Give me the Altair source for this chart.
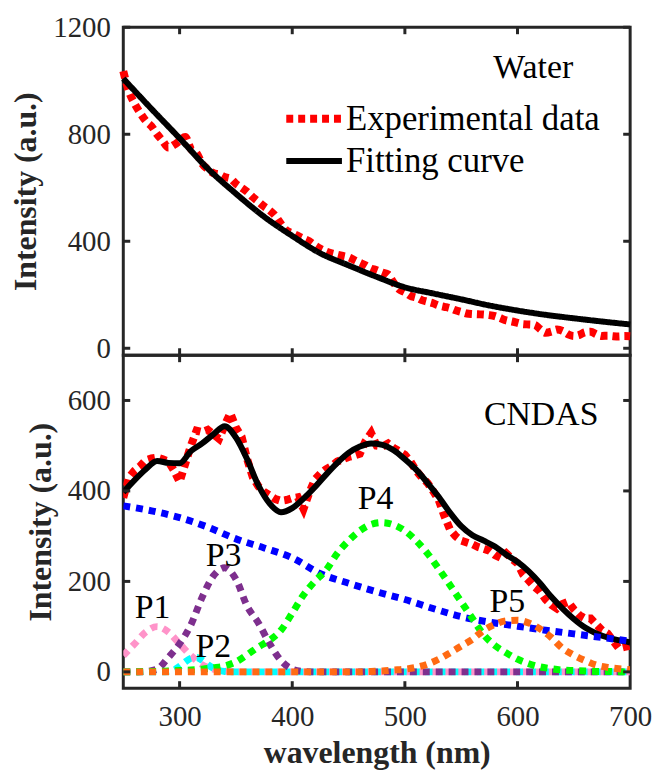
import altair as alt
import pandas as pd

FONT = "Liberation Serif"
INK = "#262626"
W, HT, HB = 510, 330, 335

# ---------------- data ----------------
# Top panel (Water)
water_fit_wl = list(range(250, 701, 25))
water_fit = [1008, 895, 785, 672, 578, 492, 420, 355, 310, 267, 228, 205, 183,
             160, 141, 125, 112, 100, 89]

water_exp_wl = list(range(250, 701, 5))
water_exp = [1036, 960, 915, 880, 850, 830, 800, 775, 750, 760,
             775, 790, 745, 730, 690, 670, 655, 650, 640, 635,
             615, 600, 585, 565, 548, 530, 515, 495, 465, 440,
             430, 420, 410, 400, 385, 372, 362, 355, 350, 345,
             340, 330, 320, 310, 298, 292, 283, 276, 245, 220,
             210, 196, 190, 180, 174, 168, 160, 155, 150, 142,
             136, 130, 128, 127, 126, 124, 120, 112, 104, 100,
             95, 90, 89, 88, 72, 58, 62, 70, 65, 52,
             46, 50, 60, 62, 52, 46, 47, 45, 44, 46,
             45]

# Bottom panel (CNDAS)
cndas_exp_wl = list(range(250, 701, 5))
cndas_exp = [385, 430, 445, 455, 468, 472, 474, 470, 465, 445,
             420, 460, 500, 533, 530, 535, 525, 515, 545, 572,
             540, 520, 470, 430, 410, 398, 390, 382, 378, 380,
             384, 386, 360, 395, 425, 438, 448, 455, 465, 470,
             475, 478, 482, 510, 528, 500, 498, 505, 495, 488,
             480, 465, 445, 430, 418, 400, 380, 345, 315, 300,
             290, 286, 282, 276, 272, 268, 258, 252, 262, 250,
             240, 215, 202, 188, 178, 160, 148, 140, 150, 155,
             138, 125, 118, 118, 105, 92, 85, 68, 52, 55,
             58]

cndas_fit_wl = list(range(250, 701, 10))
cndas_fit = [397, 424, 448, 466, 462, 461, 488, 505, 525, 543,
             518, 470, 412, 372, 353, 362, 383, 408, 436, 462,
             484, 498, 505, 502, 490, 470, 447, 418, 387, 352,
             322, 302, 290, 277, 259, 243, 222, 196, 166, 140,
             117, 98, 85, 76, 70, 65]

bg_wl = list(range(250, 701, 25))
bg = [367, 356, 341, 320, 294, 274, 252, 217, 196, 177, 160, 140, 122, 110,
      101, 92, 84, 76, 68]

comp_wl = list(range(250, 701, 10))
p1 = [36, 62, 88, 100, 88, 62, 36, 16, 6, 2] + [0] * 36
p3 = [0, 0, 1, 6, 32, 62, 104, 165, 212, 230, 205, 145, 108, 62, 25, 6, 1] + [0] * 29
p4 = [0, 0, 1, 1, 2, 3, 4, 6, 9, 13, 22, 38, 55, 70, 92, 130, 170, 200, 225, 262,
      290, 312, 326, 330, 325, 312, 290, 262, 228, 192, 155, 118, 82, 58, 42, 28,
      18, 11, 7, 4, 3, 2, 1, 1, 0, 0]
p5 = [0] * 22 + [1, 2, 4, 6, 10, 17, 28, 42, 57, 72, 92, 105, 113, 114, 108, 95,
                 76, 52, 37, 25, 15, 10, 7, 5]
p2_wl = [250, 260, 270, 280, 290, 295, 300, 305, 310, 315, 320, 325, 330, 335,
         340] + list(range(350, 701, 10))
p2 = [0, 0, 0, 0, 1, 4, 12, 22, 30, 32, 26, 16, 8, 3, 1] + [0] * 36

x_ticks = [300, 400, 500, 600]
x_label_values = [300, 400, 500, 600, 700]
water_yticks = [0, 400, 800, 1200]
cndas_yticks = [0, 200, 400, 600]

peak_names = ["P1", "P2", "P3", "P4", "P5"]
peak_wl = [276, 330, 339, 474, 591]
peak_val = [142, 54, 255, 382, 155]

series_names = ["Experimental data", "Fitting curve"]

for a, b in [(water_fit_wl, water_fit), (water_exp_wl, water_exp),
             (cndas_exp_wl, cndas_exp), (cndas_fit_wl, cndas_fit), (bg_wl, bg),
             (comp_wl, p1), (comp_wl, p3), (comp_wl, p4), (comp_wl, p5), (p2_wl, p2)]:
    assert len(a) == len(b), (len(a), len(b))

# ---------------- helpers ----------------
XS = alt.Scale(domain=[250, 700], nice=False, zero=False)


def xenc(show):
    if show:
        ax = alt.Axis(values=x_label_values, title="wavelength (nm)", labelPadding=15,
                      titlePadding=6, format="d", labelFlush=False)
    else:
        ax = None
    return alt.X("wl:Q", scale=XS, axis=ax)


def yenc(domain, ticks):
    return alt.Y("val:Q", scale=alt.Scale(domain=domain, nice=False, zero=False),
                 axis=alt.Axis(values=ticks, title="Intensity (a.u.)", format="d",
                               labelFlush=False))


def df(wl, val):
    return pd.DataFrame({"wl": wl, "val": val})


def line(data, X, Y, color, width, dash=None, interp="monotone"):
    kw = dict(color=color, strokeWidth=width, interpolate=interp, strokeCap="butt",
              clip=True)
    if dash:
        kw["strokeDash"] = dash
    return alt.Chart(data).mark_line(**kw).encode(x=X, y=Y)


def ticks_layers(X, Y, yticks, H):
    xt = pd.DataFrame({"wl": x_ticks})
    yt = pd.DataFrame({"val": yticks})
    r = dict(color=INK, strokeWidth=3)
    return [
        alt.Chart(xt).mark_rule(**r).encode(x=X, y=alt.value(H), y2=alt.value(H - 7)),
        alt.Chart(xt).mark_rule(**r).encode(x=X, y=alt.value(0), y2=alt.value(7)),
        alt.Chart(yt).mark_rule(**r).encode(y=Y, x=alt.value(0), x2=alt.value(7)),
        alt.Chart(yt).mark_rule(**r).encode(y=Y, x=alt.value(W), x2=alt.value(W - 7)),
    ]


def label(text, wl, val, X, Y):
    d = pd.DataFrame({"wl": wl, "val": val, "t": text})
    return alt.Chart(d).mark_text(font=FONT, fontSize=34, color="black",
                                  align="center", baseline="middle").encode(
        x=X, y=Y, text="t:N")


# ---------------- top panel ----------------
XT = xenc(False)
YT = yenc([-26, 1200], water_yticks)

top_df = pd.concat([
    pd.DataFrame({"wl": water_exp_wl, "val": water_exp, "series": series_names[0]}),
    pd.DataFrame({"wl": water_fit_wl, "val": water_fit, "series": series_names[1]}),
])

# long horizontal stroke sample (twice the nominal symbol width)
legend = alt.Legend(title=None, orient="none", legendX=174, legendY=74,
                    symbolType="M-2,0H2", symbolSize=784, symbolStrokeWidth=7,
                    labelFont=FONT, labelFontSize=35, labelColor="black",
                    labelOffset=14, rowPadding=7, padding=0, labelLimit=400)

top_lines = alt.Chart(top_df).mark_line(interpolate="monotone", strokeCap="butt").encode(
    x=XT, y=YT,
    color=alt.Color("series:N", scale=alt.Scale(domain=series_names,
                                                range=["#ff0000", "#000000"]),
                    legend=legend),
    strokeDash=alt.StrokeDash("series:N", scale=alt.Scale(domain=series_names,
                                                          range=[[7, 5], [1, 0]]),
                              legend=legend),
    strokeWidth=alt.StrokeWidth("series:N", scale=alt.Scale(domain=series_names,
                                                            range=[8, 6]),
                                legend=None),
)

top = alt.layer(
    top_lines,
    label(["Water"], [614], [1048], XT, YT),
    *ticks_layers(XT, YT, water_yticks, HT),
).properties(width=W, height=HT)

# ---------------- bottom panel ----------------
XB = xenc(True)
YB = yenc([-36, 700], cndas_yticks)
DOT = [7, 6]

bottom = alt.layer(
    line(df(cndas_exp_wl, cndas_exp), XB, YB, "#ff0000", 8, [7, 5], "linear"),
    line(df(cndas_fit_wl, cndas_fit), XB, YB, "#000000", 6),
    line(df(bg_wl, bg), XB, YB, "#0000ff", 7, DOT),
    line(df(comp_wl, p1), XB, YB, "#ff93c9", 7, DOT),
    line(df(p2_wl, p2), XB, YB, "#00ffff", 7, DOT),
    line(df(comp_wl, p3), XB, YB, "#7e2f8e", 7, DOT),
    line(df(comp_wl, p4), XB, YB, "#00ff00", 7, DOT),
    line(df(comp_wl, p5), XB, YB, "#ff6a13", 7, DOT),
    label(peak_names, peak_wl, peak_val, XB, YB),
    label(["CNDAS"], [621], [567], XB, YB),
    *ticks_layers(XB, YB, cndas_yticks, HB),
).properties(width=W, height=HB)

chart = alt.vconcat(top, bottom, spacing=0, bounds="flush").resolve_scale(
    color="independent", strokeDash="independent", strokeWidth="independent"
).resolve_legend(
    color="independent", strokeDash="independent", strokeWidth="independent"
).properties(
    padding={"left": 0, "top": 1, "right": 0, "bottom": 0},
    background="white",
).configure_view(
    stroke=INK, strokeWidth=3
).configure_axis(
    labelFont=FONT, labelFontSize=29, labelColor=INK, labelFontWeight="normal",
    titleFont=FONT, titleFontSize=32, titleFontWeight="bold", titleColor=INK,
    ticks=False, tickSize=0, domain=False, grid=False,
    labelPadding=13, titlePadding=10,
)

chart.save("out.html", embed_options={"renderer": "svg", "actions": False})
